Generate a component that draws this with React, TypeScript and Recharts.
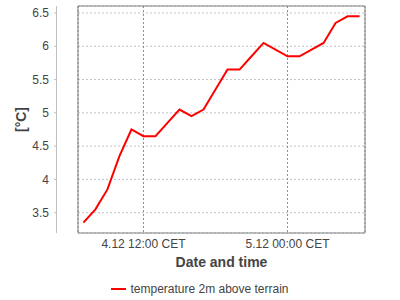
import React from "react";
import {
  LineChart,
  Line,
  XAxis,
  YAxis,
  CartesianGrid,
  ReferenceArea,
  Legend,
} from "recharts";

// hours since 4.12 07:00 CET
const hourOffsets = [
  0, 1, 2, 3, 4, 5, 6, 7, 8, 9, 10, 11, 12, 13, 14, 15, 16, 17, 18, 19, 20, 21,
  22, 23,
];
const temperature = [
  3.35, 3.55, 3.85, 4.35, 4.75, 4.65, 4.65, 4.85, 5.05, 4.95, 5.05, 5.35, 5.65,
  5.65, 5.85, 6.05, 5.95, 5.85, 5.85, 5.95, 6.05, 6.35, 6.45, 6.45,
];
const xTicks = [5, 17];
const xTickLabels = ["4.12 12:00 CET", "5.12 00:00 CET"];
const yTicks = [3.5, 4, 4.5, 5, 5.5, 6, 6.5];
const xDomain = [-0.45, 23.45];
const yDomain = [3.195, 6.605];
const seriesName = "temperature 2m above terrain";

const data = hourOffsets.map((h, i) => ({ h, temp: temperature[i] }));

const FONT = "'Liberation Sans', Arial, sans-serif";
const TEXT = "#444";

const YTick = (props: any) => {
  const { x, y, payload } = props;
  return (
    <g>
      <line x1={x - 24} y1={y} x2={x - 21} y2={y} stroke="#c0c0c0" />
      <text
        x={x - 29}
        y={y}
        dy="0.35em"
        textAnchor="end"
        fontSize={12}
        fill={TEXT}
        fontFamily={FONT}
      >
        {payload.value}
      </text>
    </g>
  );
};

const YLabel = (props: any) => {
  const { x, y, width, height } = props.viewBox;
  const axisX = x + width - 21.5;
  const cy = y + height / 2;
  return (
    <g>
      <line x1={axisX} y1={y} x2={axisX} y2={y + height} stroke="#c0c0c0" />
      <text
        x={21}
        y={cy}
        transform={`rotate(-90 21 ${cy})`}
        textAnchor="middle"
        dy="0.35em"
        fontSize={14}
        fontWeight="bold"
        fill={TEXT}
        fontFamily={FONT}
      >
        [°C]
      </text>
    </g>
  );
};

const XLabel = (props: any) => {
  const { x, y, width } = props.viewBox;
  return (
    <text
      x={x + width / 2}
      y={y + 33.5}
      textAnchor="middle"
      fontSize={14}
      fontWeight="bold"
      fill={TEXT}
      fontFamily={FONT}
    >
      Date and time
    </text>
  );
};

const LegendContent = () => (
  <div
    style={{
      display: "flex",
      justifyContent: "center",
      alignItems: "center",
      height: 18,
      fontSize: 12,
      color: TEXT,
      fontFamily: FONT,
    }}
  >
    <span
      style={{
        display: "inline-block",
        width: 15,
        height: 2,
        background: "#ff0000",
        marginRight: 4,
      }}
    />
    {seriesName}
  </div>
);

export default function App() {
  return (
    <div
      style={{
        position: "absolute",
        left: 0,
        top: 0,
        width: 400,
        height: 300,
        background: "#fff",
        fontFamily: FONT,
      }}
    >
      <LineChart
        width={400}
        height={300}
        data={data}
        margin={{ top: 6, right: 35, bottom: 2, left: 0 }}
      >
        <CartesianGrid
          vertical={false}
          stroke="#c4c4c4"
          strokeDasharray="2 2"
        />
        <CartesianGrid
          horizontal={false}
          stroke="#8a8a8a"
          strokeDasharray="2 2"
        />
        <XAxis
          type="number"
          dataKey="h"
          domain={xDomain}
          ticks={xTicks}
          tickFormatter={(v: number) => xTickLabels[xTicks.indexOf(v)]}
          axisLine={false}
          tickLine={false}
          tickSize={0}
          tickMargin={6}
          height={47}
          tick={{ fontSize: 12, fill: TEXT, fontFamily: FONT }}
          allowDataOverflow
          label={<XLabel />}
        />
        <YAxis
          type="number"
          domain={yDomain}
          ticks={yTicks}
          width={78}
          axisLine={false}
          tickLine={false}
          tickSize={0}
          tickMargin={0}
          tick={<YTick />}
          allowDataOverflow
          label={<YLabel />}
        />
        <ReferenceArea
          x1={xDomain[0]}
          x2={xDomain[1]}
          y1={yDomain[0]}
          y2={yDomain[1]}
          fill="none"
          stroke="#808080"
        />
        <Line
          type="linear"
          dataKey="temp"
          name={seriesName}
          stroke="#ff0000"
          strokeWidth={2}
          dot={false}
          isAnimationActive={false}
        />
        <Legend
          verticalAlign="bottom"
          wrapperStyle={{ left: 0, width: 400 }}
          content={<LegendContent />}
        />
      </LineChart>
    </div>
  );
}
